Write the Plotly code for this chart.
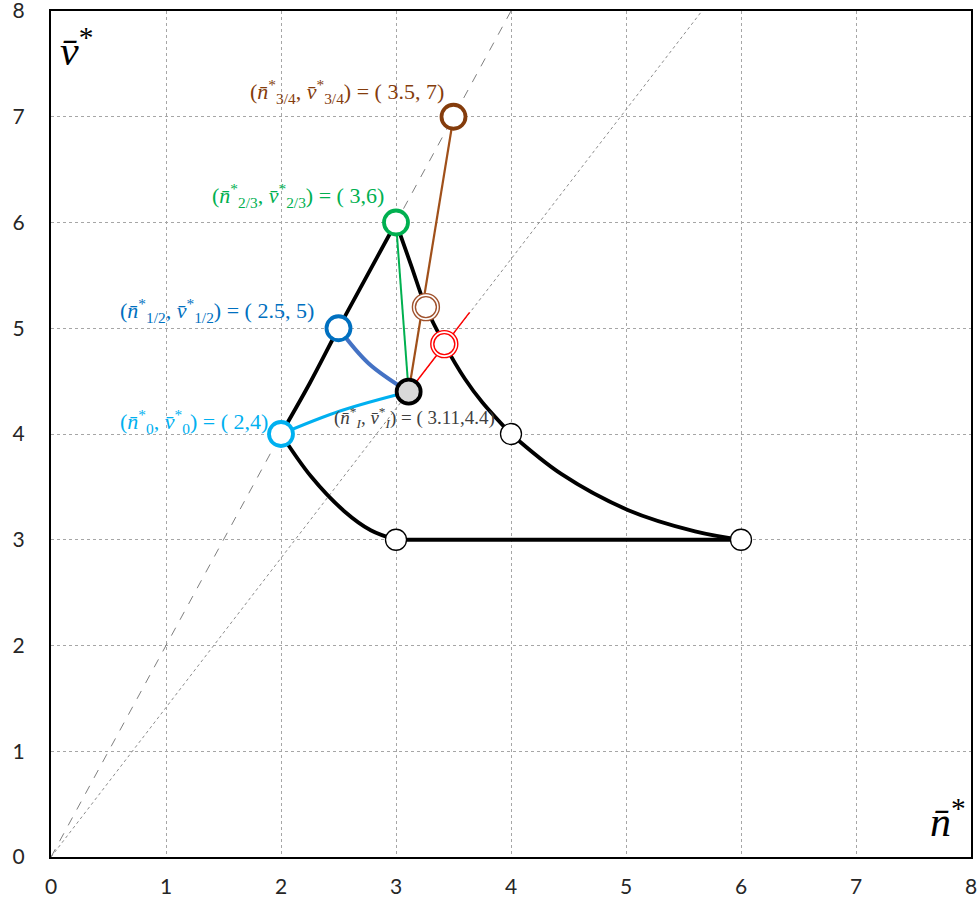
import plotly.graph_objects as go

# ---- data ----
# boundary curves
left_up_n = [2.0, 2.25, 2.5, 2.75, 3.0]
left_up_v = [4.0, 4.48, 5.0, 5.5, 6.0]
right_down_n = [3.0, 3.13, 3.26, 3.42, 3.6, 3.75, 4.0]
right_down_v = [6.0, 5.6, 5.2, 4.85, 4.52, 4.3, 4.0]
lower_right_n = [4.0, 4.44, 5.02, 5.6, 6.0]
lower_right_v = [4.0, 3.62, 3.28, 3.08, 3.0]
lower_left_n = [2.0, 2.26, 2.55, 2.78, 3.0]
lower_left_v = [4.0, 3.6, 3.27, 3.09, 3.0]
bottom_n = [3.0, 6.0]
bottom_v = [3.0, 3.0]

# reference rays from origin
ray2_n = [0.0, 4.0]
ray2_v = [0.0, 8.0]
rayr2_n = [0.0, 5.66]
rayr2_v = [0.0, 8.0]

# paths to interior point
blue_n = [2.5, 2.76, 3.11]
blue_v = [5.0, 4.67, 4.4]
lblue_n = [2.0, 2.52, 3.11]
lblue_v = [4.0, 4.22, 4.4]
green_n = [3.0, 3.11]
green_v = [6.0, 4.4]
brown_n = [3.5, 3.11]
brown_v = [7.0, 4.4]
red_n = [3.11, 3.64]
red_v = [4.4, 5.15]

# points
white_n = [3.0, 6.0, 4.0]
white_v = [3.0, 3.0, 4.0]
p0 = (2.0, 4.0)
p12 = (2.5, 5.0)
p23 = (3.0, 6.0)
p34 = (3.5, 7.0)
pI = (3.11, 4.4)
pBrownRing = (3.26, 5.2)
pRedRing = (3.42, 4.85)

tick_vals = [0, 1, 2, 3, 4, 5, 6, 7, 8]
tick_text = ["0", "1", "2", "3", "4", "5", "6", "7", "8"]

C_BROWN = "#843C0C"
C_GREEN = "#00B050"
C_BLUE = "#0070C0"
C_BLUE_LINE = "#4472C4"
C_LBLUE = "#00B0F0"
C_RED = "#FF0000"

fig = go.Figure()

def line(x, y, color, width, dash="solid", shape="linear"):
    fig.add_trace(go.Scatter(x=x, y=y, mode="lines", hoverinfo="skip",
                             line=dict(color=color, width=width, dash=dash, shape=shape)))

line(ray2_n, ray2_v, "#7F7F7F", 1, "dash")
line(rayr2_n, rayr2_v, "#8C8C8C", 1, "dot")

for xs, ys in [(left_up_n, left_up_v), (right_down_n, right_down_v),
               (lower_right_n, lower_right_v), (lower_left_n, lower_left_v)]:
    line(xs, ys, "black", 3.8, shape="spline")
line(bottom_n, bottom_v, "black", 3.8)

line(lblue_n, lblue_v, C_LBLUE, 3, shape="spline")
line(blue_n, blue_v, C_BLUE_LINE, 4, shape="spline")
line(green_n, green_v, C_GREEN, 2)
line(brown_n, brown_v, "#A0501A", 2.2)
line(red_n, red_v, C_RED, 1.5)

def marker(pts_x, pts_y, size, fill, lc, lw):
    fig.add_trace(go.Scatter(x=pts_x, y=pts_y, mode="markers", hoverinfo="skip",
                             marker=dict(size=size, color=fill, line=dict(color=lc, width=lw))))

marker(white_n, white_v, 21, "white", "black", 1.3)
marker([p0[0]], [p0[1]], 24, "white", C_LBLUE, 3.8)
marker([p12[0]], [p12[1]], 24, "white", C_BLUE, 3.8)
marker([p23[0]], [p23[1]], 24, "white", C_GREEN, 3.8)
marker([p34[0]], [p34[1]], 24, "white", C_BROWN, 3.8)
for (px, py), col in [(pBrownRing, "#A0522D"), (pRedRing, C_RED)]:
    marker([px], [py], 27, "white", col, 1.4)
    marker([px], [py], 21, "white", col, 1.4)
marker([pI[0]], [pI[1]], 24, "#D9D9D9", "black", 3.8)

LF = "Liberation Serif"
def label(pt, text, color, size, xshift, yshift):
    fig.add_annotation(x=pt[0], y=pt[1], text=text, showarrow=False, align="left",
                       xanchor="left", yanchor="middle", xshift=xshift, yshift=yshift,
                       font=dict(family=LF, size=size, color=color))

label(p34, "(<i>n̄</i><sup>*</sup><sub>3/4</sub>, <i>v̄</i><sup>*</sup><sub>3/4</sub>) = ( 3.5, 7)", C_BROWN, 22, -206, 25)
label(p23, "(<i>n̄</i><sup>*</sup><sub>2/3</sub>, <i>v̄</i><sup>*</sup><sub>2/3</sub>) = ( 3,6)", C_GREEN, 22, -186, 27)
label(p12, "(<i>n̄</i><sup>*</sup><sub>1/2</sub>, <i>v̄</i><sup>*</sup><sub>1/2</sub>) = ( 2.5, 5)", C_BLUE, 22, -221, 18)
label(p0, "(<i>n̄</i><sup>*</sup><sub>0</sub>, <i>v̄</i><sup>*</sup><sub>0</sub>) = ( 2,4)", C_LBLUE, 22, -163, 13)
label(pI, "(<i>n̄</i><sup>*</sup><sub><i>I</i></sub>, <i>v̄</i><sup>*</sup><sub><i>I</i></sub>) = ( 3.11,4.4)", "#404040", 19, -77, -26)

fig.add_annotation(xref="paper", yref="paper", x=0.008, y=0.99, xanchor="left", yanchor="top",
                   text="<i>v̄</i><sup>*</sup>", showarrow=False, font=dict(family=LF, size=42, color="black"))
fig.add_annotation(xref="paper", yref="paper", x=0.997, y=0.012, xanchor="right", yanchor="bottom",
                   text="<i>n̄</i><sup>*</sup>", showarrow=False, font=dict(family=LF, size=42, color="black"))

axis_common = dict(range=[0, 8], tickmode="array", tickvals=tick_vals, ticktext=tick_text,
                   showgrid=True, gridcolor="#A6A6A6",
                   griddash="dot", gridwidth=1, zeroline=False, showline=True, mirror=True,
                   linecolor="black", linewidth=2, ticks="", fixedrange=True, automargin=False,
                   ticklabeloverflow="allow",
                   tickfont=dict(family="Lato", size=21, color="#262626"))
fig.update_xaxes(**axis_common, ticklabelstandoff=10)
fig.update_yaxes(**axis_common, ticklabelstandoff=20)

fig.update_layout(width=980, height=910, margin=dict(l=51, r=9, t=11, b=53, autoexpand=False),
                  plot_bgcolor="white", paper_bgcolor="white", showlegend=False)

fig.write_html("out.html", config={"displayModeBar": False},
               post_script="document.body.style.margin='0';document.body.style.overflow='hidden';")
